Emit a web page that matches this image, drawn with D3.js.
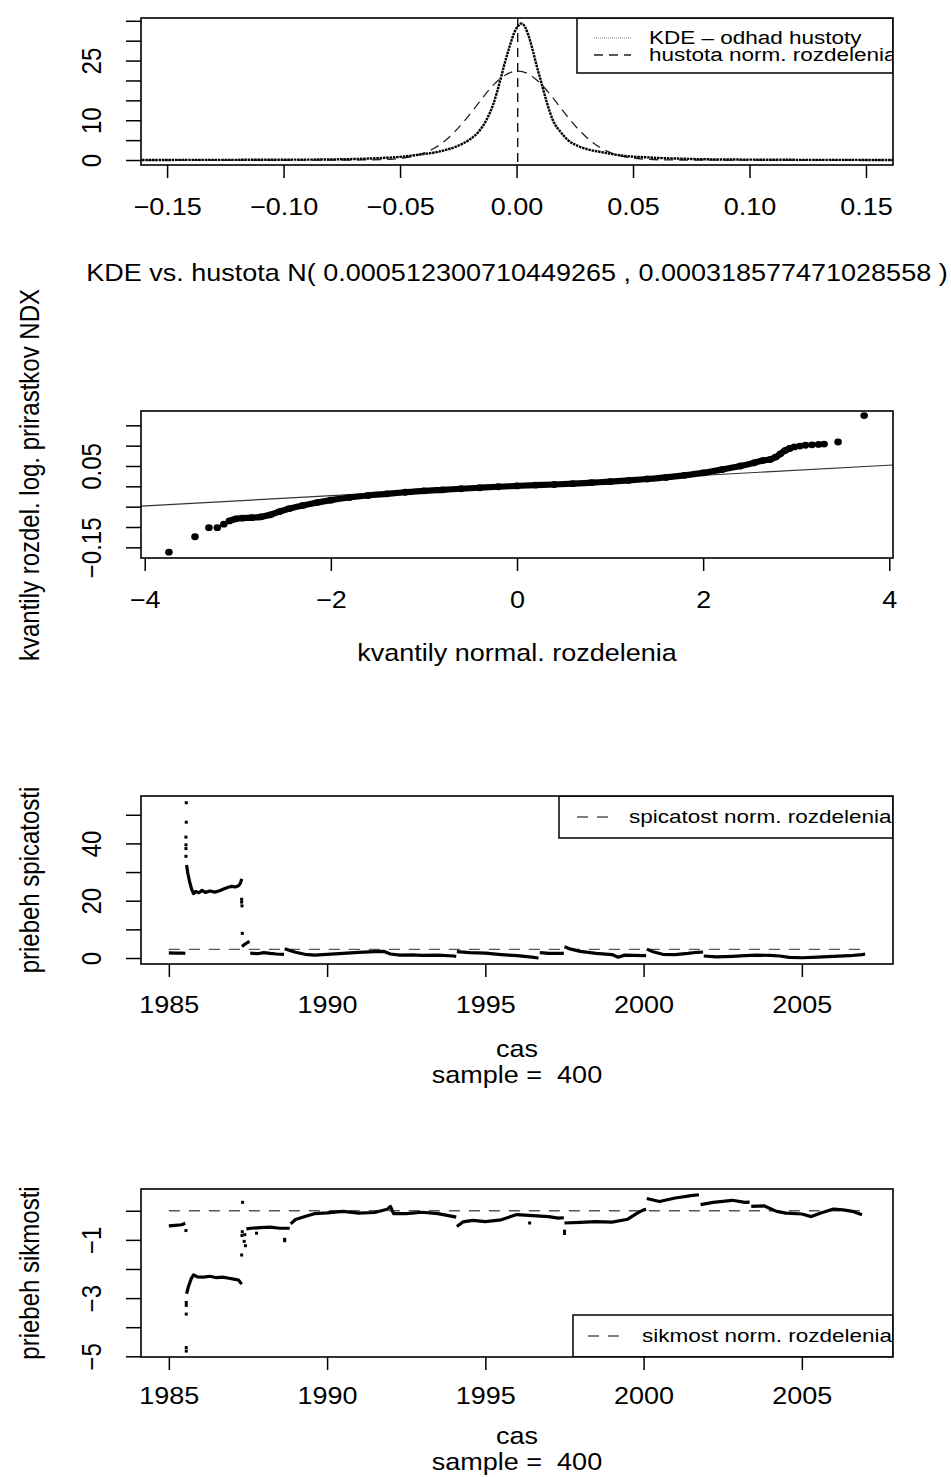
<!DOCTYPE html>
<html>
<head>
<meta charset="utf-8">
<script src="https://cdn.jsdelivr.net/npm/d3@7"></script>
<style>
body { margin: 0; background: #fff; }
svg text { font-family: "Liberation Sans", Arial, Helvetica, sans-serif; fill: #000; white-space: pre; }
</style>
</head>
<body>
<div id="chart"></div>
<script>
const width = 951,
    height = 1477,
    SX = 1.125, // the whole picture is a bit stretched horizontally
    SX_LEGEND = 1.25, // legend text is squeezed a little more
    plotLeft = 141,
    plotRight = 893,
    fontSize = 24,
    legendSize = 18;

// ---- data: density panel
const kdeX = [-0.165, -0.14, -0.12, -0.10, -0.08, -0.07, -0.06, -0.05, -0.045, -0.04, -0.035, -0.03,
    -0.025, -0.02, -0.016, -0.013, -0.010, -0.007, -0.005, -0.003, -0.001, 0.001, 0.002, 0.003,
    0.005, 0.007, 0.0085, 0.0104, 0.013, 0.0156, 0.019, 0.0221, 0.027, 0.031, 0.0364, 0.04,
    0.047, 0.055, 0.062, 0.07, 0.08, 0.10, 0.12, 0.14, 0.165];
const kdeY = [0.02, 0.03, 0.05, 0.08, 0.15, 0.25, 0.45, 0.8, 1.1, 1.5, 1.9, 2.6,
    3.6, 5.2, 7.3, 10, 14, 20, 24.5, 28.5, 32, 33.9, 34.3, 34.0,
    31.5, 27.5, 24, 20, 14.5, 10, 7, 5, 3.4, 2.6, 2.0, 1.6,
    1.0, 0.7, 0.5, 0.35, 0.2, 0.1, 0.05, 0.03, 0.02];
const normX = [-0.165, -0.09, -0.0709, -0.0620, -0.0530, -0.0486, -0.0441, -0.0396, -0.0352, -0.0307,
    -0.0263, -0.0218, -0.0173, -0.0129, -0.0084, -0.0039, 0.0005, 0.0050, 0.0094, 0.0139, 0.0184,
    0.0228, 0.0273, 0.0318, 0.0362, 0.0407, 0.0451, 0.0496, 0.0541, 0.0630, 0.0719, 0.09, 0.165];
const normY = [0, 0, 0.0075, 0.049, 0.25, 0.51, 0.98, 1.78, 3.02, 4.83,
    7.26, 10.23, 13.56, 16.87, 19.72, 21.66, 22.35, 21.66, 19.72, 16.87, 13.56,
    10.23, 7.26, 4.83, 3.02, 1.78, 0.98, 0.51, 0.25, 0.049, 0.0075, 0, 0];
const normMean = 0.000512300710449265,
    normVar = 0.000318577471028558;
const densXTicks = [-0.15, -0.10, -0.05, 0, 0.05, 0.10, 0.15];
const densYTicks = [0, 5, 10, 15, 20, 25, 30, 35];
const densYLabels = [0, 10, 25];
const densLegend = ["KDE \u2013 odhad hustoty", "hustota norm. rozdelenia"];

// ---- data: qq plot
const qqTheo = [-3.74, -3.46, -3.31, -3.22, -3.15, -3.09, -3.02, -2.95, -2.85, -2.75, -2.65, -2.55,
    -2.45, -2.3, -2.15, -2.0, -1.8, -1.6, -1.4, -1.2, -1.0, -0.8, -0.6, -0.4, -0.2, 0,
    0.2, 0.4, 0.6, 0.8, 1.0, 1.2, 1.4, 1.6, 1.8, 2.0, 2.2, 2.4, 2.55, 2.65, 2.72, 2.78,
    2.83, 2.88, 2.93, 2.98, 3.04, 3.1, 3.17, 3.24, 3.30, 3.45, 3.73];
const qqSample = [-0.162, -0.124, -0.1016, -0.1016, -0.093, -0.085, -0.080, -0.078, -0.077, -0.075, -0.070, -0.062,
    -0.055, -0.047, -0.040, -0.034, -0.0275, -0.0225, -0.0185, -0.0145, -0.011, -0.0085, -0.006, -0.0035, -0.001, 0.001,
    0.003, 0.0045, 0.0065, 0.009, 0.0115, 0.0145, 0.018, 0.022, 0.027, 0.033, 0.041, 0.050, 0.058, 0.064, 0.066, 0.072,
    0.080, 0.088, 0.093, 0.097, 0.099, 0.101, 0.102, 0.103, 0.104, 0.109, 0.174];
const qqLineIntercept = 0.002,
    qqLineSlope = 0.0125;
const qqXTicks = [-4, -2, 0, 2, 4];
const qqYTicks = [-0.15, -0.10, -0.05, 0, 0.05, 0.10, 0.15];
const qqYLabels = [-0.15, 0.05];

// ---- data: rolling kurtosis (null = gap in the series)
const kurtPoints = [
    [1985.0, 1.8], [1985.2, 1.7], [1985.4, 1.75], [1985.52, 1.6], null,
    [1985.56, 32.5], [1985.6, 29.5], [1985.66, 26.5], [1985.72, 24], [1985.78, 22.5], [1985.85, 23.2],
    [1985.95, 22.8], [1986.05, 23.6], [1986.15, 22.9], [1986.3, 23.4], [1986.45, 23.0], [1986.6, 23.5],
    [1986.75, 24.2], [1986.9, 24.8], [1987.0, 25.0], [1987.1, 24.8], [1987.2, 25.2], [1987.27, 26.3],
    [1987.3, 27.6], null,
    [1987.31, 4.0], [1987.4, 4.8], [1987.5, 5.5], [1987.55, 5.8], null,
    [1987.57, 1.7], [1987.8, 1.5], [1988.0, 1.9], [1988.2, 1.6], [1988.4, 1.4], [1988.64, 1.3], null,
    [1988.66, 3.2], [1988.8, 2.7], [1989.0, 2.0], [1989.3, 1.3], [1989.6, 1.0], [1990.0, 1.3],
    [1990.5, 1.6], [1991.0, 2.0], [1991.5, 2.2], [1991.8, 2.3], [1992.0, 1.4], [1992.3, 1.0],
    [1992.7, 1.1], [1993.0, 0.9], [1993.5, 1.0], [1994.0, 0.7], [1994.08, 0.6], null,
    [1994.1, 2.2], [1994.5, 1.9], [1995.0, 1.7], [1995.5, 1.2], [1996.0, 0.8], [1996.4, 0.4], [1996.68, 0.0], null,
    [1996.72, 1.9], [1997.0, 1.6], [1997.3, 1.6], [1997.48, 1.6], null,
    [1997.5, 3.9], [1997.7, 3.1], [1998.0, 2.3], [1998.5, 1.6], [1999.0, 1.2], [1999.2, 0.3],
    [1999.4, 1.0], [1999.7, 0.9], [2000.0, 0.8], [2000.08, 0.9], null,
    [2000.1, 3.1], [2000.3, 2.2], [2000.6, 1.3], [2001.0, 1.2], [2001.4, 1.6], [2001.7, 2.0], [2001.88, 2.1], null,
    [2001.9, 0.7], [2002.3, 0.4], [2002.8, 0.6], [2003.2, 0.8], [2003.6, 1.0], [2004.0, 0.9],
    [2004.3, 0.7], [2004.6, 0.2], [2005.0, 0.1], [2005.5, 0.3], [2006.0, 0.6], [2006.5, 0.8],
    [2006.9, 1.2], [2007.0, 1.4]
];
const kurtDots = [[1985.54, 35.5], [1985.54, 38.2], [1985.54, 39.5], [1985.54, 42.2], [1985.55, 47.4],
    [1985.55, 54.2], [1987.3, 20.5], [1987.3, 19.5], [1987.31, 18.2], [1987.32, 8.6]];
const kurtNormal = 3;
const kurtYTicks = [0, 10, 20, 30, 40, 50];
const kurtYLabels = [0, 20, 40];

// ---- data: rolling skewness
const skewPoints = [
    [1985.0, -0.52], [1985.2, -0.5], [1985.4, -0.48], [1985.52, -0.43], null,
    [1985.56, -2.85], [1985.62, -2.6], [1985.7, -2.35], [1985.78, -2.2], [1985.9, -2.27], [1986.1, -2.28],
    [1986.3, -2.25], [1986.5, -2.3], [1986.7, -2.28], [1986.9, -2.32], [1987.05, -2.35], [1987.2, -2.38],
    [1987.3, -2.52], null,
    [1987.45, -0.62], [1987.6, -0.6], [1987.9, -0.58], [1988.2, -0.56], [1988.5, -0.6], [1988.82, -0.6], null,
    [1988.85, -0.45], [1989.0, -0.3], [1989.3, -0.2], [1989.6, -0.1], [1990.0, -0.07], [1990.5, -0.02],
    [1991.0, -0.08], [1991.5, -0.06], [1991.9, 0.05], [1992.0, 0.15], [1992.1, -0.1], [1992.5, -0.1],
    [1993.0, -0.05], [1993.5, -0.1], [1994.0, -0.2], [1994.08, -0.22], null,
    [1994.1, -0.54], [1994.3, -0.38], [1994.6, -0.33], [1995.0, -0.37], [1995.5, -0.31], [1995.8, -0.2],
    [1996.0, -0.13], [1996.5, -0.17], [1997.0, -0.2], [1997.3, -0.25], [1997.48, -0.24], null,
    [1997.5, -0.42], [1998.0, -0.4], [1998.5, -0.37], [1999.0, -0.39], [1999.5, -0.29], [1999.8, -0.08],
    [2000.0, 0.03], [2000.08, 0.05], null,
    [2000.1, 0.42], [2000.5, 0.32], [2001.0, 0.44], [2001.5, 0.52], [2001.75, 0.55], null,
    [2001.8, 0.21], [2002.2, 0.29], [2002.8, 0.36], [2003.2, 0.29], [2003.35, 0.3], null,
    [2003.4, 0.15], [2003.8, 0.17], [2004.2, -0.02], [2004.5, -0.08], [2005.0, -0.11], [2005.3, -0.2],
    [2005.6, -0.08], [2006.0, 0.06], [2006.3, 0.03], [2006.6, -0.02], [2006.9, -0.14]
];
const skewDots = [[1985.54, -0.68], [1985.55, -3.15], [1985.55, -3.25], [1985.55, -3.55], [1985.55, -4.7],
    [1985.55, -4.82], [1987.3, -1.52], [1987.31, -0.85], [1987.32, -0.72], [1987.33, 0.29],
    [1987.38, -1.05], [1987.42, -1.2], [1987.4, -0.82], [1987.77, -0.77], [1988.66, -0.98],
    [1988.66, -1.03], [1996.4, -0.42], [1997.5, -0.7], [1997.5, -0.78]];
const skewNormal = 0;
const skewYTicks = [-5, -4, -3, -2, -1, 0];
const skewYLabels = [-5, -3, -1];

const yearTicks = [1985, 1990, 1995, 2000, 2005];
const yearRange = [1985, 2007];

// ---- svg
let svg = d3.select("#chart")
    .append("svg")
    .attr("width", width)
    .attr("height", height)
    .attr("viewBox", `0 0 ${width} ${height}`);

svg.append("rect").attr("width", width).attr("height", height).attr("fill", "#fff");

let clipCount = 0;

// helpers

function addText(g, x, y, str, size, rotated=false, anchor="middle", sx=SX) {
    // text is stretched like the rest of the picture
    return g.append("text")
        .attr("transform", `translate(${x},${y}) scale(${sx},1)` + (rotated ? " rotate(-90)" : ""))
        .attr("text-anchor", anchor)
        .style("font-size", size + "px")
        .text(str);
}

function hasLabel(list, d) {
    return list.some(v => Math.abs(v - d) < 1e-9);
}

function makePanel(top, bottom) {
    let g = svg.append("g");
    let id = "clip" + (clipCount++);
    g.append("clipPath").attr("id", id)
        .append("rect")
        .attr("x", plotLeft).attr("y", top)
        .attr("width", plotRight - plotLeft).attr("height", bottom - top);
    let inner = g.append("g").attr("clip-path", `url(#${id})`);
    return {g: g, inner: inner, top: top, bottom: bottom};
}

function drawAxes(panel, x, y, xTicks, xFmt, xLabelBase, yTicks, yFmt) {
    // x axis: ticks hang from the box
    let ax = panel.g.append("g")
        .attr("transform", `translate(0,${panel.bottom})`)
        .call(d3.axisBottom(x).tickValues(xTicks).tickSize(13).tickSizeOuter(0).tickFormat(xFmt));
    ax.attr("font-size", null).attr("font-family", null);
    ax.select(".domain").remove();
    ax.selectAll(".tick line").attr("stroke", "#000").attr("stroke-width", 1.5);
    ax.selectAll(".tick text")
        .attr("y", null).attr("dy", null)
        .attr("transform", `translate(0,${xLabelBase - panel.bottom}) scale(${SX},1)`)
        .style("font-size", fontSize + "px");

    // y axis: labels turned along the axis
    let ay = panel.g.append("g")
        .attr("transform", `translate(${plotLeft},0)`)
        .call(d3.axisLeft(y).tickValues(yTicks).tickSize(15).tickSizeOuter(0).tickFormat(yFmt));
    ay.attr("font-size", null).attr("font-family", null);
    ay.select(".domain").remove();
    ay.selectAll(".tick line").attr("stroke", "#000").attr("stroke-width", 1.5);
    ay.selectAll(".tick text")
        .attr("x", null).attr("dy", null)
        .attr("text-anchor", "middle")
        .attr("transform", `translate(${101 - plotLeft},0) scale(${SX},1) rotate(-90)`)
        .style("font-size", fontSize + "px");
}

function drawBox(panel) {
    panel.g.append("rect")
        .attr("x", plotLeft).attr("y", panel.top)
        .attr("width", plotRight - plotLeft).attr("height", panel.bottom - panel.top)
        .attr("fill", "none").attr("stroke", "#000").attr("stroke-width", 1.6);
}

function drawLegend(panel, x0, y0, y1, items) {
    // legend box, text clipped by the plot region like R does
    panel.inner.append("rect")
        .attr("x", x0).attr("y", y0)
        .attr("width", plotRight - x0).attr("height", y1 - y0)
        .attr("fill", "#fff").attr("stroke", "#000").attr("stroke-width", 1.5);
    items.forEach(function(it) {
        panel.inner.append("line")
            .attr("x1", it.lx1).attr("x2", it.lx2)
            .attr("y1", it.cy).attr("y2", it.cy)
            .attr("stroke", it.stroke).attr("stroke-width", it.width)
            .attr("stroke-dasharray", it.dash);
        addText(panel.inner, it.tx, it.cy + 6.3, it.text, legendSize, false, "start", SX_LEGEND);
    });
}

// ---- panel 1: KDE vs normal density
function drawDensity() {
    let p = makePanel(18, 165);
    let x = d3.scaleLinear().domain([-0.1612, 0.1616]).range([plotLeft, plotRight]);
    let y = d3.scaleLinear().domain([-1.25, 35.7]).range([p.bottom, p.top]);

    let kde = kdeX.map((v, i) => [v, kdeY[i]]);
    let norm = normX.map((v, i) => [v, normY[i]]);
    let line = d3.line().curve(d3.curveMonotoneX).x(d => x(d[0])).y(d => y(d[1]));

    p.inner.append("path").datum(norm)
        .attr("d", line).attr("fill", "none")
        .attr("stroke", "#222").attr("stroke-width", 1.3)
        .attr("stroke-dasharray", "9,6");
    p.inner.append("path").datum(kde)
        .attr("d", line).attr("fill", "none")
        .attr("stroke", "#000").attr("stroke-width", 2.4)
        .attr("stroke-dasharray", "2.5,0.8");

    // mean of the normal
    p.inner.append("line")
        .attr("x1", x(normMean)).attr("x2", x(normMean))
        .attr("y1", p.top).attr("y2", p.bottom)
        .attr("stroke", "#000").attr("stroke-width", 1.3)
        .attr("stroke-dasharray", "9,6");

    drawLegend(p, 577, p.top, 73, [
        {lx1: 594, lx2: 631, cy: 38, stroke: "#888", width: 1, dash: "1,1", tx: 649, text: densLegend[0]},
        {lx1: 594, lx2: 631, cy: 55, stroke: "#222", width: 1.3, dash: "9,6", tx: 649, text: densLegend[1]}
    ]);

    drawAxes(p, x, y, densXTicks, d3.format(".2f"), 215,
        densYTicks, d => hasLabel(densYLabels, d) ? d3.format("d")(d) : "");
    drawBox(p);

    addText(svg, (plotLeft + plotRight) / 2, 281,
        `KDE vs. hustota N( ${normMean} , ${normVar} )`, fontSize);
}

// ---- panel 2: normal QQ plot
function drawQQ() {
    let p = makePanel(411, 558);
    let x = d3.scaleLinear().domain([-4.04, 4.04]).range([plotLeft, plotRight]);
    let y = d3.scaleLinear().domain([-0.1762, 0.1852]).range([p.bottom, p.top]);

    let pts = qqTheo.map((v, i) => [v, qqSample[i]]);

    // reference line
    let xd = x.domain();
    p.inner.append("line")
        .attr("x1", x(xd[0])).attr("y1", y(qqLineIntercept + qqLineSlope * xd[0]))
        .attr("x2", x(xd[1])).attr("y2", y(qqLineIntercept + qqLineSlope * xd[1]))
        .attr("stroke", "#333").attr("stroke-width", 1.2);

    // dense middle part reads as a thick band
    p.inner.append("path")
        .datum(pts.filter(d => d[0] >= -3.1 && d[0] <= 2.95))
        .attr("d", d3.line().curve(d3.curveMonotoneX).x(d => x(d[0])).y(d => y(d[1])))
        .attr("fill", "none").attr("stroke", "#000")
        .attr("stroke-width", 6.2).attr("stroke-linecap", "round").attr("stroke-linejoin", "round");

    p.inner.selectAll("ellipse.qq")
        .data(pts)
        .join("ellipse")
        .attr("class", "qq")
        .attr("cx", d => x(d[0])).attr("cy", d => y(d[1]))
        .attr("rx", 3.8).attr("ry", 3.4)
        .attr("fill", "#000");

    drawAxes(p, x, y, qqXTicks, d => d3.format("d")(d), 608,
        qqYTicks, d => hasLabel(qqYLabels, d) ? d3.format(".2f")(d) : "");
    drawBox(p);

    addText(svg, (plotLeft + plotRight) / 2, 661, "kvantily normal. rozdelenia", fontSize);
    addText(svg, 39, 475, "kvantily rozdel. log. prirastkov NDX", fontSize, true);
}

// ---- panels 3 and 4: rolling moments
function drawRolling(top, bottom, yDomain, points, dots, normalValue, yTicks, yLabels,
                     legend, ylab, tickBase, casBase) {
    let p = makePanel(top, bottom);
    let x = d3.scaleLinear().domain([1984.12, 2007.88]).range([plotLeft, plotRight]);
    let y = d3.scaleLinear().domain(yDomain).range([p.bottom, p.top]);

    // value for a normal distribution
    p.inner.append("line")
        .attr("x1", x(yearRange[0])).attr("x2", x(yearRange[1]))
        .attr("y1", y(normalValue)).attr("y2", y(normalValue))
        .attr("stroke", "#555").attr("stroke-width", 1.4)
        .attr("stroke-dasharray", "11,9");

    p.inner.append("path")
        .datum(points)
        .attr("d", d3.line().defined(d => d !== null).x(d => x(d[0])).y(d => y(d[1])))
        .attr("fill", "none").attr("stroke", "#000")
        .attr("stroke-width", 3.2).attr("stroke-linejoin", "round");

    p.inner.selectAll("rect.dot")
        .data(dots)
        .join("rect")
        .attr("class", "dot")
        .attr("x", d => x(d[0]) - 1.5).attr("y", d => y(d[1]) - 1.5)
        .attr("width", 3).attr("height", 3)
        .attr("fill", "#000");

    drawLegend(p, legend.x0, legend.y0, legend.y1, [
        {lx1: legend.lx1, lx2: legend.lx2, cy: legend.cy, stroke: "#555", width: 1.4,
            dash: "11,9", tx: legend.tx, text: legend.text}
    ]);

    drawAxes(p, x, y, yearTicks, d3.format("d"), tickBase,
        yTicks, d => hasLabel(yLabels, d) ? d3.format("d")(d) : "");
    drawBox(p);

    addText(svg, (plotLeft + plotRight) / 2, casBase, "cas", fontSize);
    addText(svg, (plotLeft + plotRight) / 2, casBase + 26, "sample =  400", fontSize);
    addText(svg, 39, (top + bottom) / 2, ylab, fontSize, true);
}

drawDensity();
drawQQ();
drawRolling(796, 964, [-2.09, 56.55], kurtPoints, kurtDots, kurtNormal, kurtYTicks, kurtYLabels,
    {x0: 559, y0: 796, y1: 838, lx1: 577, lx2: 609, cy: 817, tx: 629, text: "spicatost norm. rozdelenia"},
    "priebeh spicatosti", 1013, 1057);
drawRolling(1189, 1357, [-5.024, 0.748], skewPoints, skewDots, skewNormal, skewYTicks, skewYLabels,
    {x0: 573, y0: 1315, y1: 1357, lx1: 588, lx2: 623, cy: 1336, tx: 642, text: "sikmost norm. rozdelenia"},
    "priebeh sikmosti", 1404, 1444);
</script>
</body>
</html>
